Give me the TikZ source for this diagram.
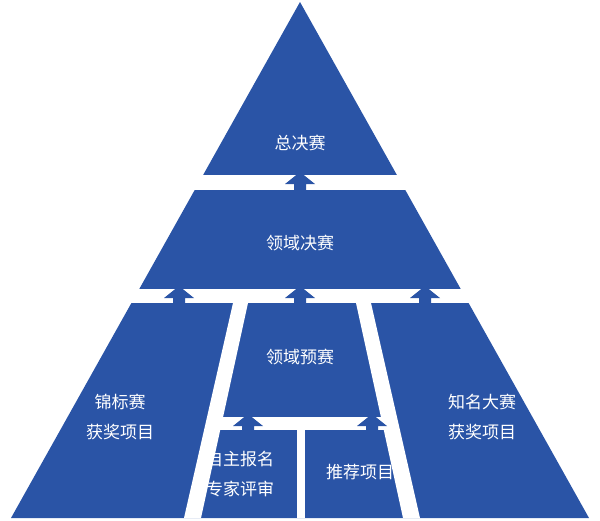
\documentclass[tikz,border=0pt]{standalone}
\usepackage{fontspec}
\newfontfamily\cjk{Noto Sans CJK SC}
\definecolor{pblue}{HTML}{2A54A6}
\begin{document}
\begin{tikzpicture}[x=1pt,y=-1pt,
  lbl/.style={text=white,font=\cjk\fontsize{17}{30}\selectfont,align=center,inner sep=0},
  gap/.style={fill=white,draw=none},
  arr/.style={fill=pblue,draw=none}]
\useasboundingbox (0,0) rectangle (600,520);
\newcommand\myuparr[3]{% x, top y, bottom y
  \fill[arr] (#1-6,#3) -- (#1-6,#2+9) -- (#1-15,#2+9) -- (#1,#2-3) -- (#1+15,#2+9) -- (#1+6,#2+9) -- (#1+6,#3) -- cycle;}
\fill[pblue] (300,2) -- (589,518) -- (11,518) -- cycle;
% horizontal gaps
\fill[gap] (0,175) rectangle (600,190);
\fill[gap] (0,289) rectangle (600,303);
\fill[gap] (210,417) rectangle (392,430);
% slanted stripes
\fill[gap] (233,303) -- (248,303) -- (201,518) -- (184,518) -- cycle;
\fill[gap] (356,303) -- (371,303) -- (420,518) -- (403,518) -- cycle;
\fill[gap] (297,430) rectangle (305,518);
% arrows
\myuparr{300}{175}{190}
\myuparr{179}{289}{303}
\myuparr{300}{289}{303}
\myuparr{425}{289}{303}
\myuparr{248}{417}{430}
\myuparr{372}{417}{430}
% labels
\node[lbl] (zj) at (300,143) {总决赛};
\node[lbl] (lj) at (300,243) {领域决赛};
\node[lbl] (ly) at (300,357) {领域预赛};
\node[lbl] (jb) at (120,417) {锦标赛\\获奖项目};
\node[lbl] (zm) at (482,417) {知名大赛\\获奖项目};
\node[lbl] (zz) at (240,474) {自主报名\\专家评审};
\node[lbl] (tj) at (360,472) {推荐项目};
\end{tikzpicture}
\end{document}
